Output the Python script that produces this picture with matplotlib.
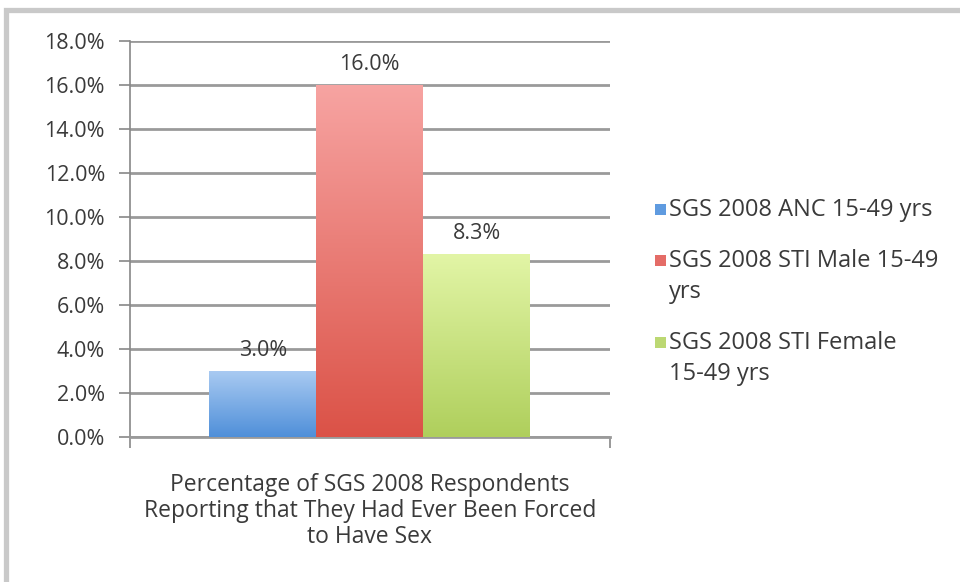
import numpy as np
import matplotlib.pyplot as plt
from matplotlib.patches import Rectangle
from matplotlib.colors import LinearSegmentedColormap
from matplotlib.ticker import FuncFormatter

series = ["SGS 2008 ANC 15-49 yrs",
          "SGS 2008 STI Male 15-49\nyrs",
          "SGS 2008 STI Female\n15-49 yrs"]
values = [3.0, 16.0, 8.3]
value_labels = ["3.0%", "16.0%", "8.3%"]
category = "Percentage of SGS 2008 Respondents\nReporting that They Had Ever Been Forced\nto Have Sex"
yticks = np.arange(0, 18.1, 2.0)

# gradient (top colour, bottom colour) per series
grad = [("#aacbf2", "#4f8fd9"), ("#f7a4a2", "#db5247"), ("#e2f5a6", "#afcf5c")]
legend_col = ["#5f9be0", "#e46c67", "#bcd873"]

plt.rcParams['font.family'] = ['Open Sans', 'DejaVu Sans']

W, H = 960, 582
fig = plt.figure(figsize=(W / 100, H / 100), dpi=100)
# outer chart frame (gray border at top and left)
fig.patches.append(Rectangle((0.0065, -0.05), 1.5, 1.033, transform=fig.transFigure,
                             fill=False, edgecolor="#c9c9c9", linewidth=3.8, zorder=0))

ax = fig.add_axes([0.1354, 0.2491, 0.4995, 0.6805])

w = 1.0
for i, (v, (top, bot)) in enumerate(zip(values, grad)):
    x0 = i - 1 - w / 2
    rect = Rectangle((x0, 0), w, v, facecolor="none", edgecolor="none", zorder=3)
    ax.add_patch(rect)
    cmap = LinearSegmentedColormap.from_list("g%d" % i, [bot, top])
    img = ax.imshow(np.linspace(0, 1, 256).reshape(-1, 1), cmap=cmap, origin="lower",
                    extent=[x0, x0 + w, 0, v], aspect="auto", zorder=3)
    img.set_clip_path(rect)
    ax.text(i - 1, v + 0.45, value_labels[i], ha="center", va="bottom",
            fontsize=15.5, color="#3a3a3a", zorder=4)

ax.set_aspect("auto")
ax.set_xlim(-2.243, 2.243)
ax.set_ylim(0, 18)

ax.set_yticks(yticks)
ax.yaxis.set_major_formatter(FuncFormatter(lambda y, _: "%.1f%%" % y))
ax.yaxis.grid(True, color="#9a9a9a", linewidth=2.0, zorder=1)
ax.set_axisbelow(True)
ax.tick_params(axis="y", length=8, width=1.2, color="#888888", labelsize=15.5,
               labelcolor="#3a3a3a", pad=10)
ax.set_xticks([-2.243, 2.243])
ax.set_xticklabels(["", ""])
ax.tick_params(axis="x", length=8, width=1.2, color="#888888")
for s in ["top", "right"]:
    ax.spines[s].set_visible(False)
ax.spines["left"].set_color("#888888")
ax.spines["left"].set_linewidth(1.2)
ax.spines["bottom"].set_color("#9a9a9a")
ax.spines["bottom"].set_linewidth(2.0)

ax.text(0, -1.62, category, ha="center", va="top", fontsize=16.5, color="#3a3a3a",
        linespacing=1.13, transform=ax.transData)

# legend, drawn by hand so the swatch sits on the first line of each label
leg_rows = [211, 262, 344]   # pixel rows of the first text line
for label, col, yy in zip(series, legend_col, leg_rows):
    fig.patches.append(Rectangle((655 / W, 1 - (yy + 4) / H), 11 / W, 11 / H,
                                 transform=fig.transFigure, facecolor=col,
                                 edgecolor="none"))
    fig.text(669 / W, 1 - (yy - 13) / H, label, ha="left", va="top", fontsize=17,
             color="#3a3a3a", linespacing=1.4)

fig.savefig("out.png", dpi=100)
